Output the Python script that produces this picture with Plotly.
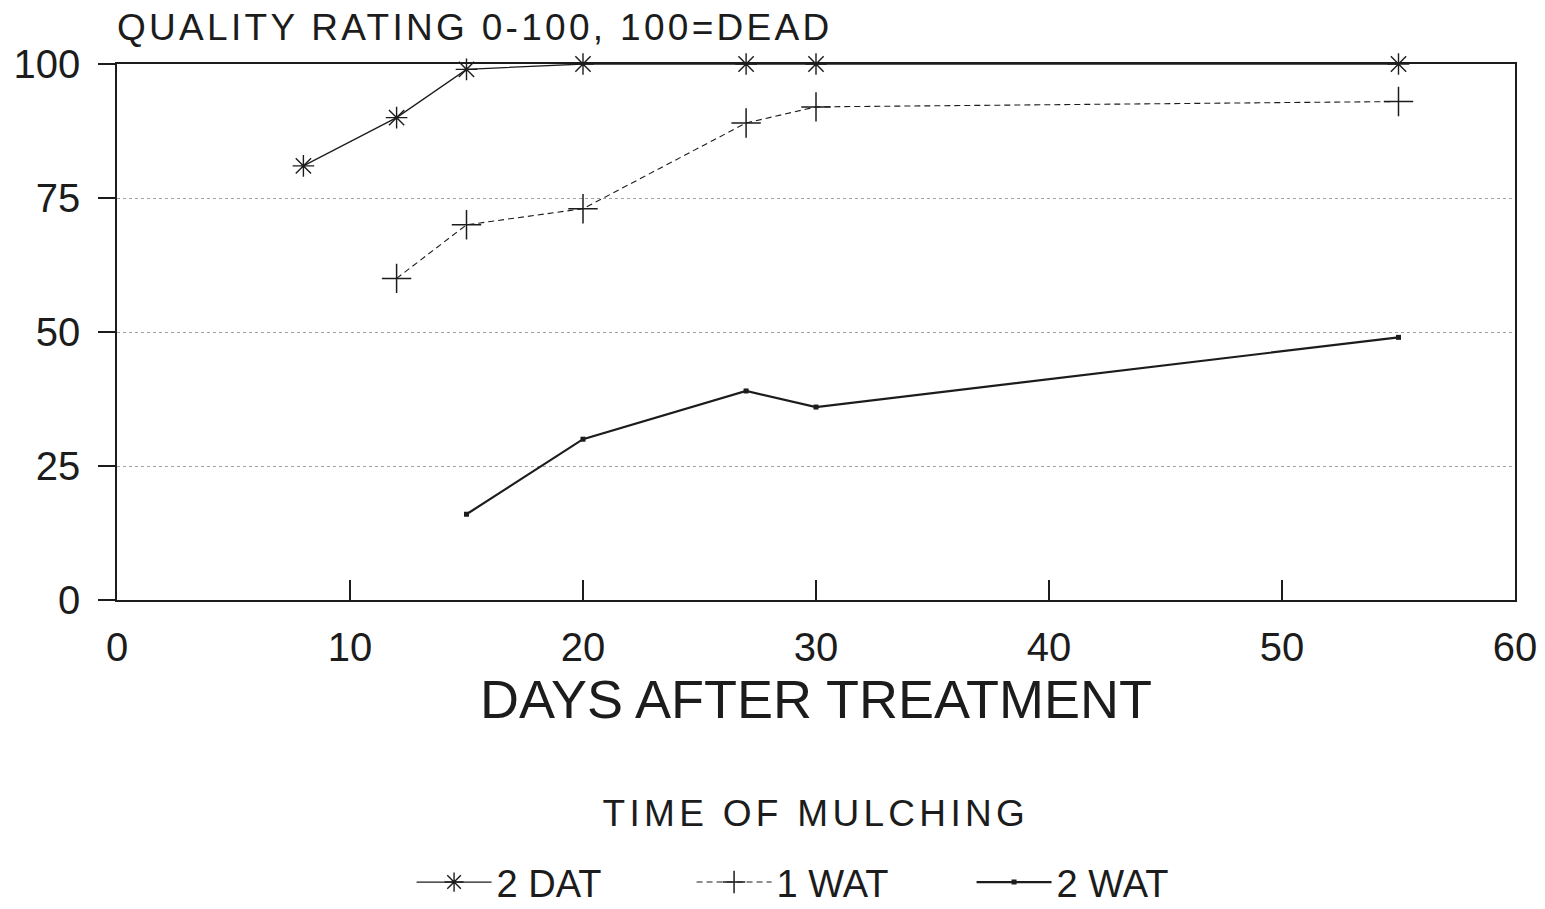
import plotly.graph_objects as go

days_2dat = [8, 12, 15, 20, 27, 30, 55]
vals_2dat = [81, 90, 99, 100, 100, 100, 100]
days_1wat = [12, 15, 20, 27, 30, 55]
vals_1wat = [60, 70, 73, 89, 92, 93]
days_2wat = [15, 20, 27, 30, 55]
vals_2wat = [16, 30, 39, 36, 49]

x_ticks = [0, 10, 20, 30, 40, 50, 60]
y_ticks = [0, 25, 50, 75, 100]

INK = "#1c1c1c"
FONT = "Liberation Sans, Arial, sans-serif"

fig = go.Figure()
fig.add_trace(go.Scatter(
    x=days_2dat, y=vals_2dat, name="2 DAT", mode="lines+markers", cliponaxis=False,
    line=dict(color=INK, width=1.3),
    marker=dict(symbol="asterisk-open", size=18, color=INK, line=dict(color=INK, width=1.4)),
))
fig.add_trace(go.Scatter(
    x=days_1wat, y=vals_1wat, name="1 WAT", mode="lines+markers", cliponaxis=False,
    line=dict(color=INK, width=1.1, dash="6px,4px"),
    marker=dict(symbol="cross-thin-open", size=21, color=INK, line=dict(color=INK, width=1.5)),
))
fig.add_trace(go.Scatter(
    x=days_2wat, y=vals_2wat, name="2 WAT", mode="lines+markers", cliponaxis=False,
    line=dict(color=INK, width=2.2),
    marker=dict(symbol="square", size=5, color=INK),
))

fig.update_layout(
    width=1545, height=909,
    margin=dict(l=117, r=30, t=64, b=309, autoexpand=False),
    paper_bgcolor="white", plot_bgcolor="white",
    font=dict(family=FONT, color=INK),
    showlegend=True,
    title=dict(text="QUALITY RATING 0-100, 100=DEAD", xref="paper", x=0, xanchor="left",
               yref="container", y=1 - 40 / 909, yanchor="bottom",
               font=dict(size=37, family=FONT, color=INK)),
    legend=dict(
        orientation="h", x=0.2107, xanchor="left", y=-0.468, yanchor="top",
        font=dict(size=38, family=FONT, color=INK),
        entrywidth=190, itemwidth=75, bgcolor="rgba(0,0,0,0)",
    ),
    annotations=[
        dict(text="TIME OF MULCHING", xref="paper", yref="paper",
             x=0.5, y=0, xanchor="center", yanchor="middle", yshift=-213, showarrow=False,
             font=dict(size=37, family=FONT, color=INK)),
    ],
)

fig.update_xaxes(
    range=[0, 60], tickvals=x_ticks, ticks="inside", ticklen=20, tickwidth=1.6,
    tickcolor=INK, showline=True, linecolor=INK, linewidth=1.6, mirror=True,
    showgrid=False, zeroline=False,
    tickfont=dict(size=40, color=INK), ticklabelstandoff=11,
    title=dict(text="DAYS AFTER TREATMENT", font=dict(size=54, color=INK), standoff=11),
)
fig.update_yaxes(
    range=[0, 100], tickvals=y_ticks, ticks="outside", ticklen=17, tickwidth=1.6,
    tickcolor=INK, showline=True, linecolor=INK, linewidth=1.6, mirror=True,
    showgrid=True, gridcolor="#a0a0a0", gridwidth=1, griddash="dot", zeroline=False,
    tickfont=dict(size=40, color=INK), ticklabelstandoff=10,
)

post = """
document.body.style.margin = '0';
var gd = document.getElementById('{plot_id}');
function fixText() {
  var t = gd.querySelector('.gtitle');
  if (t) { t.style.letterSpacing = '3.3px'; }
  gd.querySelectorAll('.annotation-text').forEach(function (e) { e.style.letterSpacing = '4.3px'; });
}
fixText();
if (gd.on) { gd.on('plotly_afterplot', fixText); }
"""

fig.write_html("out.html", post_script=post, config={"displayModeBar": False})
